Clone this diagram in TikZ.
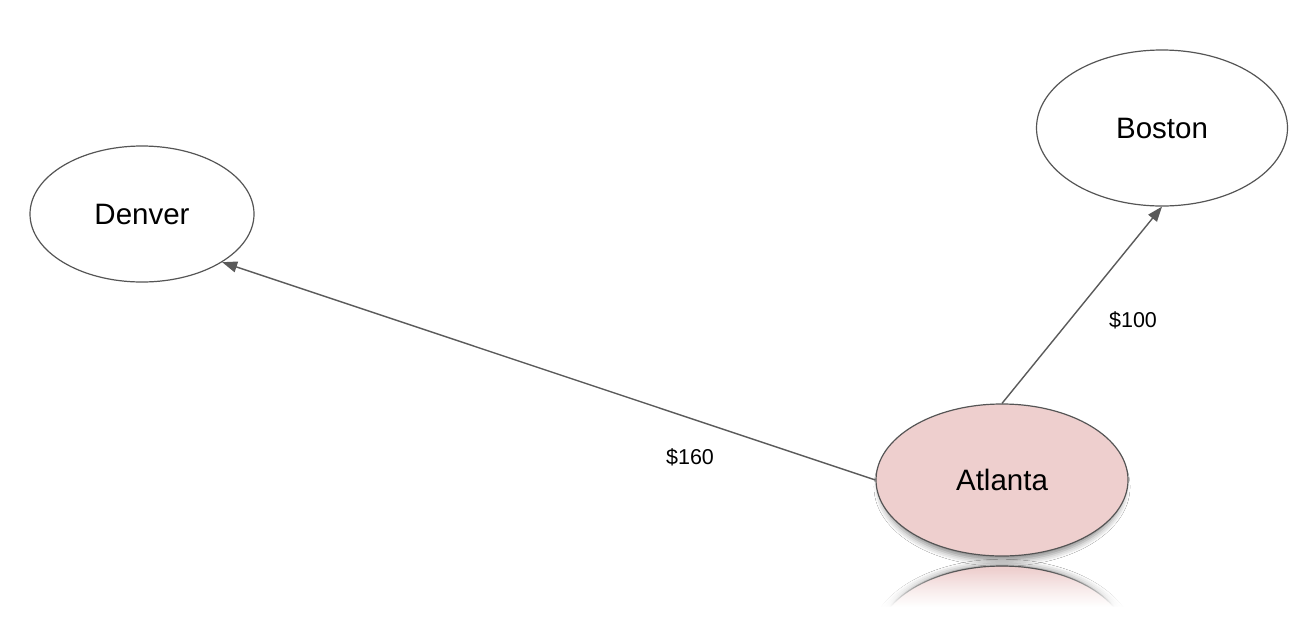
\documentclass[tikz,border=0pt]{standalone}
\usepackage{fontspec}
\setmainfont{Liberation Sans}
\usetikzlibrary{shapes.geometric,arrows.meta,shadows.blur,fadings}
\definecolor{edgegray}{HTML}{5A5A5A}
\definecolor{rimgray}{HTML}{555555}
\definecolor{atlfill}{HTML}{EECFCE}
\tikzfading[name=fadedown, top color=transparent!100, bottom color=transparent!0]
\tikzset{
  city/.style={ellipse, draw=rimgray, line width=1.2pt, fill=white, inner sep=0pt,
    font=\fontsize{29.5}{33}\selectfont, text=black},
  conn/.style={draw=edgegray, line width=1.4pt, -{Triangle[length=15pt,width=11pt]}},
  price/.style={font=\fontsize{21.5}{25}\selectfont, text=black},
}
\begin{document}
\begin{tikzpicture}[x=1pt,y=-1pt]
\useasboundingbox (0,0) rectangle (1316,630);
\fill[white] (0,0) rectangle (1316,630);
% reflection of Atlanta
\begin{scope}
  \clip (860,540) rectangle (1150,606);
  \node[ellipse, minimum width=252pt, minimum height=152pt, inner sep=0pt,
    draw=rimgray, line width=1.2pt, top color=atlfill, bottom color=white,
    blur shadow={shadow xshift=0pt, shadow yshift=0pt, shadow blur radius=6pt, shadow opacity=50, shadow scale=1.01}] (refl) at (1002,642) {};
  \fill[white, path fading=fadedown] (860,570) rectangle (1150,607);
\end{scope}
\node[city, minimum width=224pt, minimum height=136pt] (D) at (142,214) {Denver};
\node[city, minimum width=251pt, minimum height=156pt] (B) at (1162,128) {Boston};
\node[city, fill=atlfill, minimum width=252pt, minimum height=152pt,
  blur shadow={shadow xshift=0pt, shadow yshift=-7pt, shadow blur radius=6pt, shadow opacity=45, shadow scale=0.97}] (A) at (1002,480) {Atlanta};
\draw[conn] (A.west) -- (D.-31);
\draw[conn] (A.north) -- (B.south);
\node[price] (p1) at (690,457) {\$160};
\node[price] (p2) at (1133,320) {\$100};
\end{tikzpicture}
\end{document}
